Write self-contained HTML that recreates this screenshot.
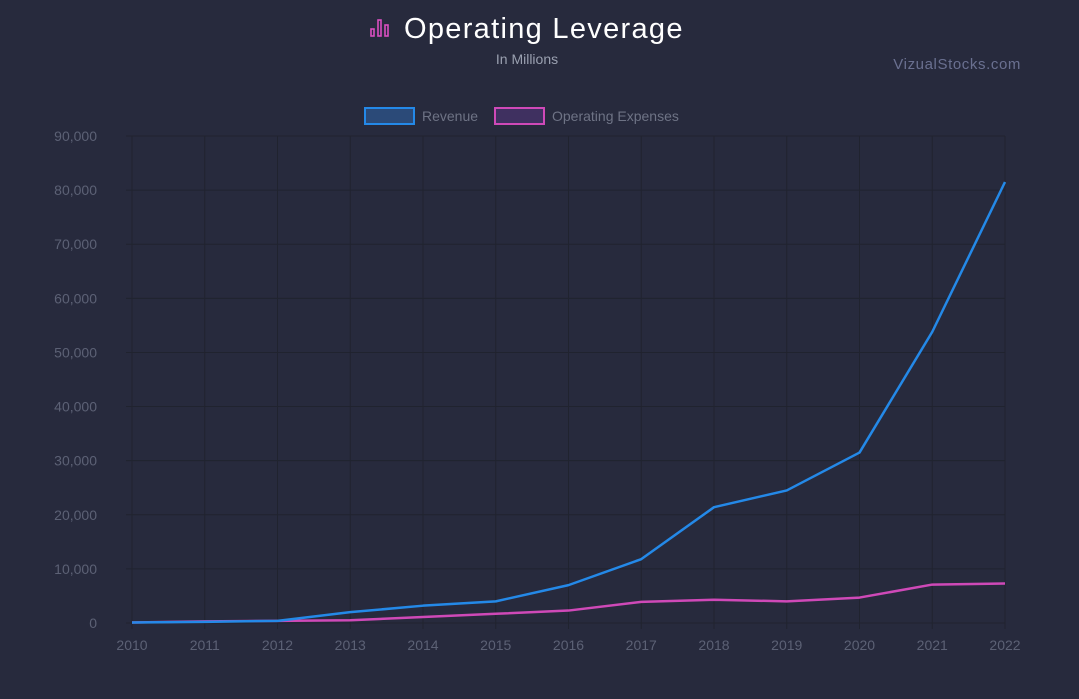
<!DOCTYPE html>
<html><head><meta charset="utf-8"><style>
body{margin:0;background:#272a3d;width:1079px;height:694px;overflow:hidden;font-family:"Liberation Sans",sans-serif;}
</style></head><body>
<svg width="1079" height="694" id="c">
<rect width="1079" height="694" fill="#272a3d"/>
<g fill="none" stroke="#d94fc0" stroke-width="1.6">
<rect x="371" y="29" width="3" height="7"/><rect x="378" y="20" width="3" height="16"/><rect x="385" y="25" width="3" height="11"/></g>
<text x="404" y="38" fill="#ffffff" font-size="29" letter-spacing="1.3">Operating Leverage</text>
<text x="527" y="64" fill="#9aa0b0" font-size="14" text-anchor="middle">In Millions</text>
<text x="1021" y="69" fill="#6a7090" font-size="15" letter-spacing="0.6" text-anchor="end">VizualStocks.com</text>
<g><rect x="365" y="108" width="49" height="16" fill="#2b4a78" stroke="#2489e8" stroke-width="2"/><text x="422" y="121" fill="#6e7385" font-size="14">Revenue</text></g>
<g><rect x="495" y="108" width="49" height="16" fill="#3f3060" stroke="#cf49b8" stroke-width="2"/><text x="552" y="121" fill="#6e7385" font-size="14">Operating Expenses</text></g>
<g id="grid"></g><g id="axes"></g><g id="series"></g>
</svg>
<script>
const years=["2010","2011","2012","2013","2014","2015","2016","2017","2018","2019","2020","2021","2022"];
const revenue=[100,200,400,2000,3200,4000,7000,11800,21400,24500,31500,53800,81500];
const opex=[100,300,400,500,1100,1700,2300,3900,4300,4000,4700,7100,7300];
const yTicks=[0,10000,20000,30000,40000,50000,60000,70000,80000,90000];
const NS="http://www.w3.org/2000/svg";
const x0=132,x1=1005,y0=623,y1=136,ymax=90000;
const xs=i=>x0+(x1-x0)*i/(years.length-1);
const ys=v=>y0-(y0-y1)*v/ymax;
function mk(t,a,p){const e=document.createElementNS(NS,t);for(const k in a)e.setAttribute(k,a[k]);p.appendChild(e);return e;}
const grid=document.getElementById('grid'),axes=document.getElementById('axes'),ser=document.getElementById('series');
yTicks.forEach(v=>{
 const l=mk('line',{x1:x0-6,x2:x1,y1:ys(v),y2:ys(v),stroke:'#20232f','stroke-width':1},grid);
 
 
 const t=mk('text',{x:x0-35,y:ys(v)+5,fill:'#5c6175','font-size':14,'text-anchor':'end'},axes);
 t.textContent=v.toLocaleString('en-US');
 
 
});
years.forEach((y,i)=>{
 const l=mk('line',{x1:xs(i),x2:xs(i),y1:y1,y2:y0+6,stroke:'#20232f','stroke-width':1},grid);
 
 
 const t=mk('text',{x:xs(i),y:650,fill:'#5c6175','font-size':14,'text-anchor':'middle'},axes);
 t.textContent=y;
 
 
});
function line(data,color,name){
 const d=data.map((v,i)=>(i?'L':'M')+xs(i)+' '+ys(v)).join(' ');
 const p=mk('path',{d:d,fill:'none',stroke:color,'stroke-width':2.5,'stroke-linejoin':'round'},ser);
 
 
}
line(opex,'#cf49b8','operating-expenses-line');
line(revenue,'#2489e8','revenue-line');
</script>
</body></html>
